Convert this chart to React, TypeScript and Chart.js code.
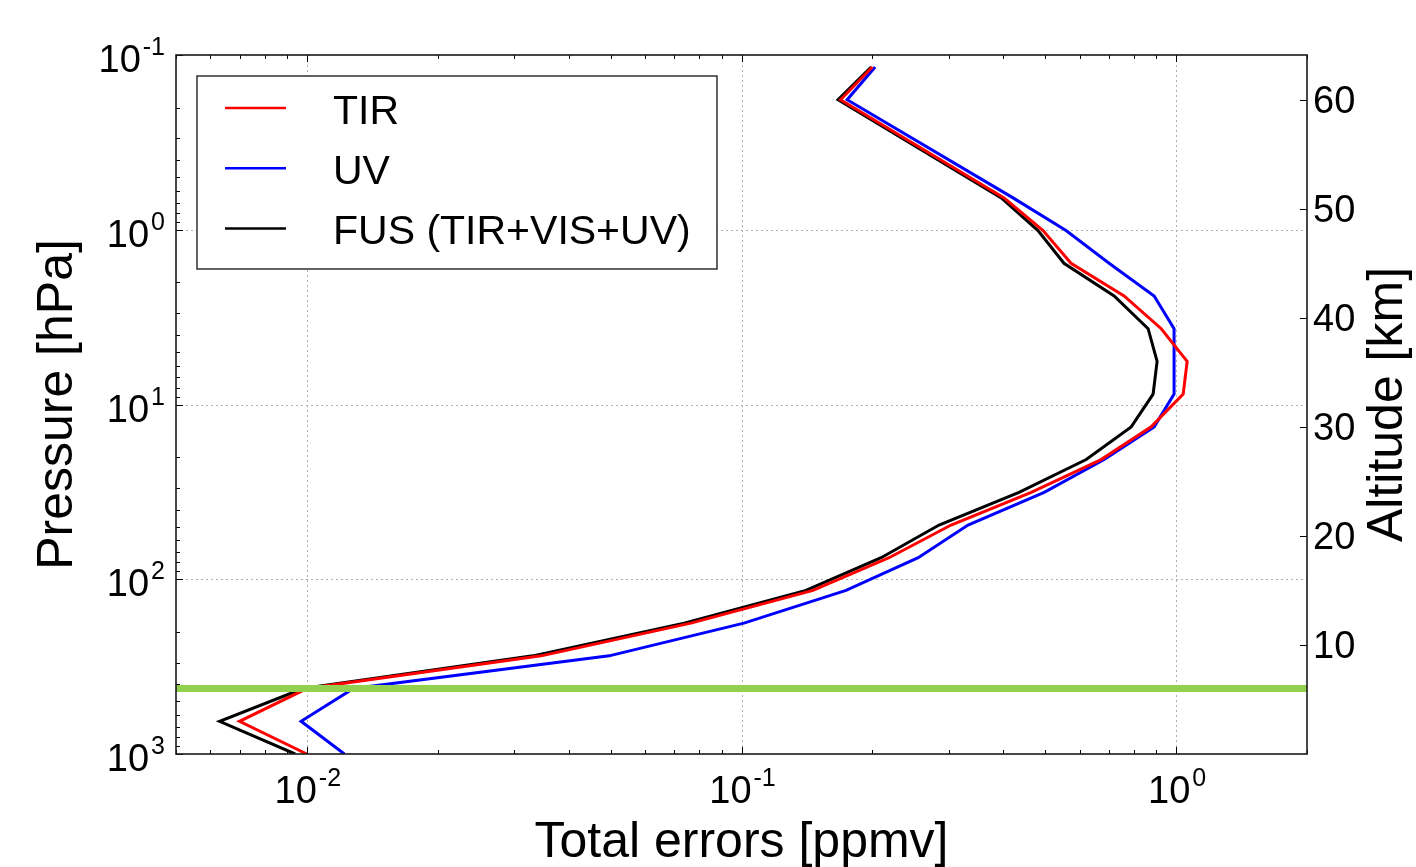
import React, { useEffect, useRef } from 'react';
import { Chart, registerables } from 'chart.js';

Chart.register(...registerables);

// ---- Data ----
const altitudeKm = [0, 3, 6, 9, 12, 15, 18, 21, 24, 27, 30, 33, 36, 39, 42, 45, 48, 51, 60, 63];
const tirErrors = [0.0100, 0.0070, 0.0100, 0.0346, 0.0765, 0.146, 0.2185, 0.3035, 0.464, 0.672, 0.876, 1.038, 1.060, 0.924, 0.759, 0.573, 0.494, 0.402, 0.169, 0.200];
const uvErrors = [0.0122, 0.0097, 0.0128, 0.0496, 0.1013, 0.174, 0.255, 0.332, 0.497, 0.683, 0.890, 0.989, 0.989, 0.989, 0.890, 0.701, 0.558, 0.4215, 0.175, 0.203];
const fusErrors = [0.0094, 0.0063, 0.0098, 0.0331, 0.0738, 0.1407, 0.2095, 0.2848, 0.435, 0.621, 0.788, 0.885, 0.904, 0.862, 0.720, 0.552, 0.481, 0.396, 0.1668, 0.1987];
const seriesLabels = ['TIR', 'UV', 'FUS (TIR+VIS+UV)'];
const seriesColors = ['#ff0000', '#0000ff', '#000000'];
const thresholdAltitudeKm = 6;
const xAxisRange = [0.005, 2];
const pressureRange = [0.1, 1000];
const altitudeRange = [0, 64.1];
const xTickValues = [0.01, 0.1, 1];
const xTickExponents = ['-2', '-1', '0'];
const pressureTickValues = [0.1, 1, 10, 100, 1000];
const pressureTickExponents = ['-1', '0', '1', '2', '3'];
const altitudeTickValues = [10, 20, 30, 40, 50, 60];
const altitudeTickLabels = ['10', '20', '30', '40', '50', '60'];
const xTitle = 'Total errors [ppmv]';
const yTitle = 'Pressure [hPa]';
const y2Title = 'Altitude [km]';

const FONT = '"Liberation Sans", Arial, Helvetica, sans-serif';

function minorValues(lo: number, hi: number, majors: number[]) {
  const out: number[] = [];
  for (let k = -4; k <= 4; k++) {
    for (let m = 2; m <= 9; m++) {
      const v = m * Math.pow(10, k);
      if (v >= lo * 0.9999 && v <= hi * 1.0001 && !majors.some((mj) => Math.abs(mj - v) / v < 1e-6)) out.push(v);
    }
  }
  return out;
}

function drawPow(ctx: CanvasRenderingContext2D, exp: string, x: number, baseline: number, align: 'right' | 'center') {
  ctx.font = `38px ${FONT}`;
  const w10 = ctx.measureText('10').width;
  ctx.font = `25px ${FONT}`;
  const wExp = ctx.measureText(exp).width;
  const total = w10 + 2 + wExp;
  const start = align === 'right' ? x - total : x - total / 2;
  ctx.textAlign = 'left';
  ctx.textBaseline = 'alphabetic';
  ctx.fillStyle = '#000';
  ctx.font = `38px ${FONT}`;
  ctx.fillText('10', start, baseline);
  ctx.font = `25px ${FONT}`;
  ctx.fillText(exp, start + w10 + 2, baseline - 17);
}

const mplPlugin = {
  id: 'mplAxes',
  beforeDatasetsDraw(chart: any) {
    const { ctx, chartArea: a, scales } = chart;
    ctx.save();
    ctx.strokeStyle = '#b0b0b0';
    ctx.lineWidth = 1;
    ctx.setLineDash([2, 3]);
    xTickValues.forEach((v) => {
      const px = Math.round(scales.x.getPixelForValue(v)) + 0.5;
      if (px <= a.left + 1 || px >= a.right - 1) return;
      ctx.beginPath();
      ctx.moveTo(px, a.top);
      ctx.lineTo(px, a.bottom);
      ctx.stroke();
    });
    pressureTickValues.forEach((v) => {
      const py = Math.round(scales.y.getPixelForValue(v)) + 0.5;
      if (py <= a.top + 1 || py >= a.bottom - 1) return;
      ctx.beginPath();
      ctx.moveTo(a.left, py);
      ctx.lineTo(a.right, py);
      ctx.stroke();
    });
    ctx.restore();
  },
  afterDatasetsDraw(chart: any) {
    const { ctx, chartArea: a, scales } = chart;
    ctx.save();
    ctx.setLineDash([]);
    // ticks
    ctx.strokeStyle = '#000';
    ctx.lineWidth = 1;
    const majorLen = 7;
    const minorLen = 4;
    const xMinors = minorValues(xAxisRange[0], xAxisRange[1], xTickValues);
    const vTick = (px: number, len: number) => {
      ctx.beginPath();
      ctx.moveTo(px, a.bottom);
      ctx.lineTo(px, a.bottom - len);
      ctx.moveTo(px, a.top);
      ctx.lineTo(px, a.top + len);
      ctx.stroke();
    };
    xTickValues.forEach((v) => vTick(Math.round(scales.x.getPixelForValue(v)) + 0.5, majorLen));
    xMinors.forEach((v) => vTick(Math.round(scales.x.getPixelForValue(v)) + 0.5, minorLen));
    const pMinors = minorValues(pressureRange[0], pressureRange[1], pressureTickValues);
    const hTickL = (py: number, len: number) => {
      ctx.beginPath();
      ctx.moveTo(a.left, py);
      ctx.lineTo(a.left + len, py);
      ctx.stroke();
    };
    pressureTickValues.forEach((v) => hTickL(Math.round(scales.y.getPixelForValue(v)) + 0.5, majorLen));
    pMinors.forEach((v) => hTickL(Math.round(scales.y.getPixelForValue(v)) + 0.5, minorLen));
    altitudeTickValues.forEach((v) => {
      const py = Math.round(scales.y2.getPixelForValue(v)) + 0.5;
      ctx.beginPath();
      ctx.moveTo(a.right, py);
      ctx.lineTo(a.right - majorLen, py);
      ctx.stroke();
    });

    // frame
    ctx.strokeStyle = '#1a1a1a';
    ctx.lineWidth = 1.6;
    ctx.strokeRect(a.left, a.top, a.right - a.left, a.bottom - a.top);

    // tick labels
    xTickValues.forEach((v, i) => {
      const px = scales.x.getPixelForValue(v);
      drawPow(ctx, xTickExponents[i], px + 1, a.bottom + 49, 'center');
    });
    pressureTickValues.forEach((v, i) => {
      const py = scales.y.getPixelForValue(v);
      drawPow(ctx, pressureTickExponents[i], a.left - 11, py + 17, 'right');
    });
    ctx.font = `38px ${FONT}`;
    ctx.textAlign = 'left';
    ctx.textBaseline = 'alphabetic';
    ctx.fillStyle = '#000';
    altitudeTickValues.forEach((v, i) => {
      const py = scales.y2.getPixelForValue(v);
      ctx.fillText(altitudeTickLabels[i], a.right + 6, py + 13);
    });

    // axis titles
    ctx.font = `50px ${FONT}`;
    ctx.textAlign = 'center';
    ctx.textBaseline = 'alphabetic';
    ctx.fillText(xTitle, (a.left + a.right) / 2, a.bottom + 103);
    const midY = (a.top + a.bottom) / 2;
    ctx.save();
    ctx.translate(a.left - 104, midY);
    ctx.rotate(-Math.PI / 2);
    ctx.fillText(yTitle, 0, 0);
    ctx.restore();
    ctx.save();
    ctx.translate(a.right + 95, midY);
    ctx.rotate(-Math.PI / 2);
    ctx.fillText(y2Title, 0, 0);
    ctx.restore();

    // legend
    const lx = a.left + 21;
    const ly = a.top + 21;
    const lw = 520;
    const lh = 193;
    ctx.fillStyle = '#ffffff';
    ctx.fillRect(lx, ly, lw, lh);
    ctx.strokeStyle = '#222';
    ctx.lineWidth = 1.4;
    ctx.strokeRect(lx, ly, lw, lh);
    seriesLabels.forEach((lab, i) => {
      const yy = ly + 32 + i * 60.2;
      ctx.strokeStyle = seriesColors[i];
      ctx.lineWidth = 2.5;
      ctx.beginPath();
      ctx.moveTo(lx + 28, yy);
      ctx.lineTo(lx + 89, yy);
      ctx.stroke();
      ctx.fillStyle = '#000';
      ctx.font = `41px ${FONT}`;
      ctx.textAlign = 'left';
      ctx.textBaseline = 'alphabetic';
      ctx.fillText(lab, lx + 136, yy + 15.5);
    });
    ctx.restore();
  },
};

export default function App() {
  const canvasRef = useRef<HTMLCanvasElement | null>(null);

  useEffect(() => {
    const canvas = canvasRef.current;
    if (!canvas) return;
    const seriesValues = [tirErrors, uvErrors, fusErrors];
    const datasets: any[] = [
      {
        label: 'threshold',
        data: [
          { x: xAxisRange[0], y: thresholdAltitudeKm },
          { x: xAxisRange[1], y: thresholdAltitudeKm },
        ],
        borderColor: '#92d050',
        backgroundColor: '#92d050',
        borderWidth: 7,
        pointRadius: 0,
        fill: false,
        xAxisID: 'x',
        yAxisID: 'y2',
        order: 0,
      },
    ];
    seriesValues.forEach((vals, i) => {
      datasets.push({
        label: seriesLabels[i],
        data: altitudeKm.map((alt, j) => ({ x: vals[j], y: alt })),
        borderColor: seriesColors[i],
        backgroundColor: seriesColors[i],
        borderWidth: 3,
        pointRadius: 0,
        fill: false,
        tension: 0,
        xAxisID: 'x',
        yAxisID: 'y2',
        order: i + 1,
      });
    });

    const chart = new Chart(canvas, {
      type: 'line',
      data: { datasets },
      options: {
        animation: false,
        responsive: false,
        maintainAspectRatio: false,
        parsing: true,
        layout: { padding: { top: 55, left: 0, right: 0, bottom: 0 } },
        plugins: {
          legend: { display: false },
          tooltip: { enabled: false },
          title: { display: false },
        },
        scales: {
          x: {
            type: 'logarithmic',
            position: 'bottom',
            min: xAxisRange[0],
            max: xAxisRange[1],
            ticks: { display: false },
            grid: { display: false },
            border: { display: false },
            afterFit: (s: any) => {
              s.height = 113;
            },
          },
          y: {
            type: 'logarithmic',
            position: 'left',
            reverse: true,
            min: pressureRange[0],
            max: pressureRange[1],
            ticks: { display: false },
            grid: { display: false },
            border: { display: false },
            afterFit: (s: any) => {
              s.width = 176;
            },
          },
          y2: {
            type: 'linear',
            position: 'right',
            min: altitudeRange[0],
            max: altitudeRange[1],
            ticks: { display: false },
            grid: { display: false },
            border: { display: false },
            afterFit: (s: any) => {
              s.width = 109;
            },
          },
        } as any,
      },
      plugins: [mplPlugin],
    });
    return () => chart.destroy();
  }, []);

  return (
    <div style={{ position: 'absolute', left: 0, top: 0, width: 1416, height: 867, background: '#fff' }}>
      <canvas ref={canvasRef} width={1416} height={867} style={{ width: 1416, height: 867, display: 'block' }} />
    </div>
  );
}
